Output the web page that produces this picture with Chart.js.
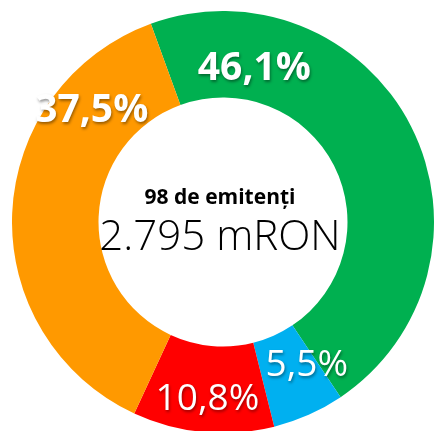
<!DOCTYPE html>
<html>
<head>
    <meta charset="utf-8" />
    <title>Emitenti doughnut</title>
    <script src="https://cdn.jsdelivr.net/npm/chart.js@4.4.0/dist/chart.umd.min.js"></script>
    <style>
        html, body { margin: 0; padding: 0; background: #fff; overflow: hidden; width: 434px; height: 431px; }
        #wrap { position: absolute; left: 12px; top: 11px; width: 422px; height: 422px; }
    </style>
</head>
<body>
<div id="wrap"><canvas id="chart" width="422" height="422"></canvas></div>

<script>
    // data
    var categories = ['Verde', 'Albastru', 'Rosu', 'Portocaliu'];
    var shares = [46.1, 5.5, 10.8, 37.5];
    var pctLabels = ['46,1%', '5,5%', '10,8%', '37,5%'];
    var centerTitle = '98 de emitenți';
    var centerValue = '2.795 mRON';

    // styles
    var colors = ['#00B050', '#00B0F0', '#FF0000', '#FF9900'];
    var labelFonts = ['bold 39px', 'normal 37px', 'normal 37px', 'bold 39px'];
    // where each label sits inside its arc (fraction of angle, fraction of ring thickness)
    var labelAlong = [0.19, 0.18, 0.49, 0.78];
    var labelAcross = [0.37, 0.48, 0.62, 0.55];

    var sliceLabels = {
        id: 'sliceLabels',
        afterDatasetsDraw: function (chart) {
            var ctx = chart.ctx;
            var meta = chart.getDatasetMeta(0);
            meta.data.forEach(function (arc, i) {
                var p = arc.getProps(['x', 'y', 'startAngle', 'endAngle', 'innerRadius', 'outerRadius'], true);
                var a = p.startAngle + (p.endAngle - p.startAngle) * labelAlong[i];
                var r = p.innerRadius + (p.outerRadius - p.innerRadius) * labelAcross[i];
                ctx.save();
                ctx.font = labelFonts[i] + ' "Open Sans"';
                ctx.textAlign = 'center';
                ctx.textBaseline = 'middle';
                ctx.fillStyle = '#fff';
                ctx.shadowColor = 'rgba(0,0,0,0.4)';
                ctx.shadowBlur = 3;
                ctx.shadowOffsetX = 1;
                ctx.shadowOffsetY = 2;
                ctx.fillText(pctLabels[i], p.x + r * Math.cos(a), p.y + r * Math.sin(a));
                ctx.restore();
            });
        }
    };

    var centerText = {
        id: 'centerText',
        afterDraw: function (chart) {
            var ctx = chart.ctx;
            var arc = chart.getDatasetMeta(0).data[0];
            ctx.save();
            ctx.textAlign = 'center';
            ctx.textBaseline = 'alphabetic';
            ctx.fillStyle = '#000';
            ctx.font = 'bold 21px "Open Sans"';
            ctx.fillText(centerTitle, arc.x - 3, arc.y - 18);
            ctx.font = '300 42px "Open Sans"';
            ctx.fillText(centerValue, arc.x - 3, arc.y + 28);
            ctx.restore();
        }
    };

    new Chart(document.getElementById('chart'), {
        type: 'doughnut',
        data: {
            labels: categories,
            datasets: [{
                data: shares,
                backgroundColor: colors,
                borderWidth: 0
            }]
        },
        options: {
            responsive: false,
            animation: false,
            rotation: -20,
            cutout: '59%',
            layout: { padding: 0 },
            plugins: {
                legend: { display: false },
                tooltip: { enabled: false }
            }
        },
        plugins: [sliceLabels, centerText]
    });
</script>
</body>
</html>
